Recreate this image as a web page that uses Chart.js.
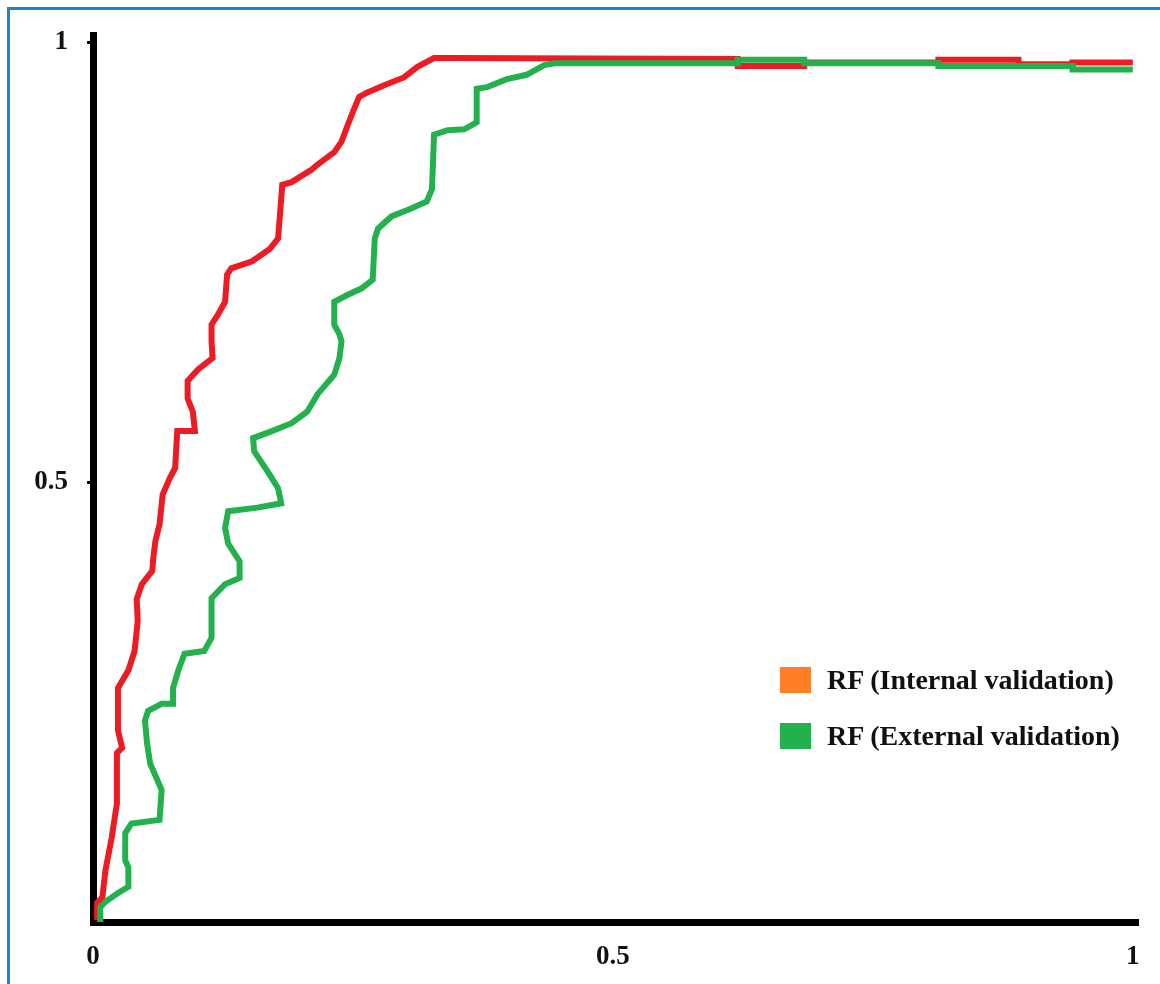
<!DOCTYPE html>
<html>
<head>
<meta charset="utf-8">
<script src="https://cdn.jsdelivr.net/npm/chart.js@4.4.1/dist/chart.umd.min.js"></script>
<style>
    body { margin: 0; background: #fff; overflow: hidden; }
    #wrap { position: relative; width: 1160px; height: 984px; }
    #frame {
        position: absolute; left: 7px; top: 7px; width: 1200px; height: 1200px;
        border: 3px solid #1b87c5; pointer-events: none;
    }
    #legend {
        position: absolute; left: 780px; top: 666px;
        font: bold 28px "Liberation Serif", "Times New Roman", serif; color: #111;
    }
    .item { display: flex; align-items: center; height: 27px; margin-bottom: 29px; }
    .box { width: 31px; height: 26px; margin-right: 16px; }
</style>
</head>
<body>
<div id="wrap">
    <canvas id="roc" width="1160" height="984"></canvas>
    <div id="frame"></div>
    <div id="legend"></div>
</div>
<script>
// ROC curves, values (false positive rate / true positive rate)
const seriesNames = ["RF (Internal validation)", "RF (External validation)"];
const xTickValues = [0, 0.5, 1];
const yTickValues = [0.5, 1];

const internalFpr = [0.004, 0.004, 0.009, 0.012, 0.018, 0.023, 0.023, 0.028, 0.024, 0.024, 0.034, 0.040,
    0.043, 0.042, 0.047, 0.057, 0.058, 0.060, 0.064, 0.067, 0.074, 0.079, 0.081, 0.098, 0.096, 0.091,
    0.091, 0.101, 0.115, 0.114, 0.114, 0.120, 0.127, 0.129, 0.133, 0.153, 0.170, 0.178, 0.181, 0.182,
    0.191, 0.210, 0.216, 0.232, 0.239, 0.245, 0.251, 0.256, 0.264, 0.280, 0.299, 0.312, 0.328, 0.345,
    0.620, 0.620, 0.684, 0.684, 0.813, 0.813, 0.890, 0.890, 0.942, 0.942, 1.0];
const internalTpr = [0.002, 0.022, 0.028, 0.059, 0.096, 0.135, 0.192, 0.198, 0.218, 0.266, 0.286, 0.308,
    0.342, 0.367, 0.384, 0.399, 0.414, 0.433, 0.452, 0.486, 0.505, 0.516, 0.558, 0.558, 0.580, 0.595,
    0.615, 0.628, 0.641, 0.660, 0.679, 0.690, 0.705, 0.736, 0.743, 0.751, 0.765, 0.777, 0.822, 0.838,
    0.841, 0.855, 0.861, 0.875, 0.887, 0.906, 0.924, 0.938, 0.943, 0.951, 0.960, 0.972, 0.982, 0.982,
    0.981, 0.973, 0.973, 0.977, 0.977, 0.980, 0.980, 0.975, 0.975, 0.977, 0.977];

const externalFpr = [0.007, 0.007, 0.012, 0.024, 0.034, 0.034, 0.031, 0.031, 0.037, 0.064, 0.066, 0.062,
    0.055, 0.052, 0.050, 0.053, 0.066, 0.077, 0.077, 0.082, 0.088, 0.107, 0.114, 0.114, 0.127, 0.141,
    0.141, 0.130, 0.127, 0.130, 0.158, 0.181, 0.178, 0.168, 0.155, 0.154, 0.172, 0.191, 0.206, 0.216,
    0.232, 0.237, 0.239, 0.237, 0.232, 0.232, 0.245, 0.258, 0.269, 0.271, 0.274, 0.287, 0.306, 0.321,
    0.326, 0.328, 0.341, 0.357, 0.369, 0.369, 0.379, 0.398, 0.417, 0.434, 0.444, 0.620, 0.620, 0.684,
    0.684, 0.813, 0.813, 0.942, 0.942, 1.0];
const externalTpr = [0.0, 0.017, 0.023, 0.033, 0.040, 0.062, 0.070, 0.101, 0.112, 0.116, 0.150, 0.161,
    0.180, 0.203, 0.229, 0.240, 0.248, 0.248, 0.266, 0.286, 0.305, 0.308, 0.323, 0.368, 0.384, 0.391,
    0.410, 0.430, 0.448, 0.467, 0.471, 0.476, 0.493, 0.512, 0.535, 0.550, 0.558, 0.567, 0.580, 0.600,
    0.622, 0.641, 0.660, 0.668, 0.679, 0.705, 0.713, 0.720, 0.730, 0.777, 0.788, 0.802, 0.811, 0.819,
    0.833, 0.895, 0.900, 0.901, 0.909, 0.947, 0.949, 0.958, 0.963, 0.974, 0.976, 0.976, 0.980, 0.980,
    0.976, 0.976, 0.973, 0.973, 0.969, 0.969];

const lineColors = ["#ed1c24", "#22b14c"];
const boxColors = ["#ff7f27", "#22b14c"];

function toPoints(xs, ys) {
    return xs.map((x, i) => ({ x: x, y: ys[i] }));
}

const tickFont = { family: "'Liberation Serif', 'Times New Roman', serif", size: 27, weight: "bold" };

new Chart(document.getElementById("roc"), {
    type: "line",
    data: {
        datasets: [
            {
                label: seriesNames[0],
                data: toPoints(internalFpr, internalTpr),
                borderColor: lineColors[0],
                borderWidth: 6,
                pointRadius: 0,
                tension: 0,
                order: 1
            },
            {
                label: seriesNames[1],
                data: toPoints(externalFpr, externalTpr),
                borderColor: lineColors[1],
                borderWidth: 6,
                pointRadius: 0,
                tension: 0,
                order: 0
            }
        ]
    },
    options: {
        responsive: false,
        animation: false,
        devicePixelRatio: 1,
        layout: { padding: { top: 33, right: 22, left: 0, bottom: 0 } },
        plugins: { legend: { display: false }, tooltip: { enabled: false } },
        scales: {
            x: {
                type: "linear",
                min: 0,
                max: 1.005,
                afterBuildTicks: s => { s.ticks = xTickValues.map(v => ({ value: v })); },
                afterFit: s => { s.height = 62; },
                grid: { display: false },
                border: { display: true, color: "#000", width: 7 },
                ticks: { color: "#111", font: tickFont, padding: 11, maxRotation: 0,
                    callback: v => String(v) }
            },
            y: {
                min: 0,
                max: 1.008,
                afterBuildTicks: s => { s.ticks = yTickValues.map(v => ({ value: v })); },
                afterFit: s => { s.width = 93; },
                grid: { drawOnChartArea: false, drawTicks: true, tickLength: 6, color: "#000", lineWidth: 3 },
                border: { display: true, color: "#000", width: 7 },
                ticks: { color: "#111", font: tickFont, padding: 19,
                    callback: v => String(v) }
            }
        }
    }
});

// legend, drawn as html next to the plot
const legendEl = document.getElementById("legend");
seriesNames.forEach((name, i) => {
    const item = document.createElement("div");
    item.className = "item";
    item.innerHTML = `<span class="box" style="background:${boxColors[i]}"></span><span>${name}</span>`;
    legendEl.appendChild(item);
});
</script>
</body>
</html>
